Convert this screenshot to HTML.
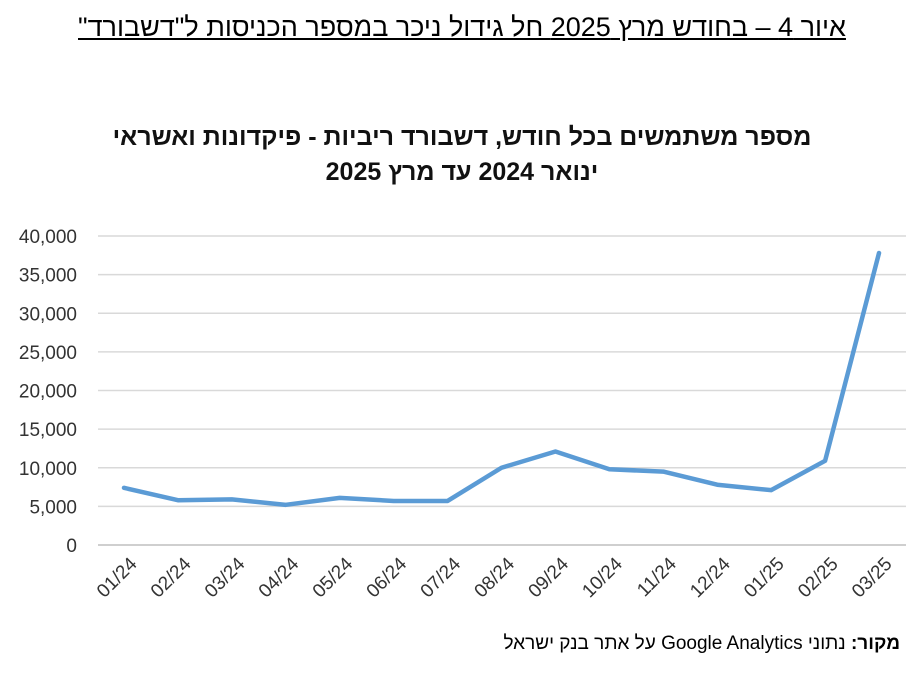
<!DOCTYPE html>
<html><head><meta charset="utf-8"><style>
body{margin:0;width:924px;height:688px;background:#fff;overflow:hidden;font-family:"Liberation Sans Narrow","Liberation Sans","Noto Sans CJK SC",sans-serif;}
#t{position:absolute;left:0;width:924px;top:12px;text-align:center;font-size:27px;text-decoration:underline;direction:rtl;color:#000}
#ct{position:absolute;left:0;width:924px;top:120px;text-align:center;font-size:25px;font-weight:bold;line-height:35px;direction:rtl;color:#111}
#src{position:absolute;right:24px;top:633px;font-size:19px;direction:rtl;color:#000}
svg{position:absolute;left:0;top:0}
</style></head><body>
<div id="t">איור 4 – בחודש מרץ 2025 חל גידול ניכר במספר הכניסות ל"דשבורד"</div>
<div id="ct">מספר משתמשים בכל חודש, דשבורד ריביות - פיקדונות ואשראי<br>ינואר 2024 עד מרץ 2025</div>
<svg id="c" width="924" height="688"></svg>
<div id="src"><b>מקור:</b> נתוני Google Analytics על אתר בנק ישראל</div>
<script>
const categories=["01/24","02/24","03/24","04/24","05/24","06/24","07/24","08/24","09/24","10/24","11/24","12/24","01/25","02/25","03/25"];
const users=[7400,5800,5900,5200,6100,5700,5700,10000,12100,9800,9500,7800,7100,10900,37800];
const yTicks=[0,5000,10000,15000,20000,25000,30000,35000,40000];
const NS="http://www.w3.org/2000/svg";
const svg=document.getElementById('c');
const x0=124,dx=53.93,y0=545,yTop=236,ymax=40000;
const X=i=>x0+i*dx, Y=v=>y0-(v/ymax)*(y0-yTop);
function mk(t,a){const e=document.createElementNS(NS,t);for(const k in a)e.setAttribute(k,a[k]);svg.appendChild(e);return e;}
yTicks.forEach(v=>{
 const l=mk('line',{x1:98,x2:906,y1:Y(v),y2:Y(v),stroke:v===0?'#bfbfbf':'#d9d9d9','stroke-width':1.5});
 
 
 const t=mk('text',{x:77,y:Y(v)+7,'text-anchor':'end','font-size':19,fill:'#333'});
 t.textContent=v.toLocaleString('en-US');
 
 
});
categories.forEach((c,i)=>{
 const t=mk('text',{x:X(i)+14,y:565,'text-anchor':'end','font-size':19,fill:'#333',transform:`rotate(-45 ${X(i)+14} 565)`});
 t.textContent=c;
 
 
});
const p=mk('polyline',{points:users.map((v,i)=>X(i)+','+Y(v)).join(' '),fill:'none',stroke:'#5b9bd5','stroke-width':4.5,'stroke-linejoin':'round','stroke-linecap':'round'});


</script>
</body></html>
